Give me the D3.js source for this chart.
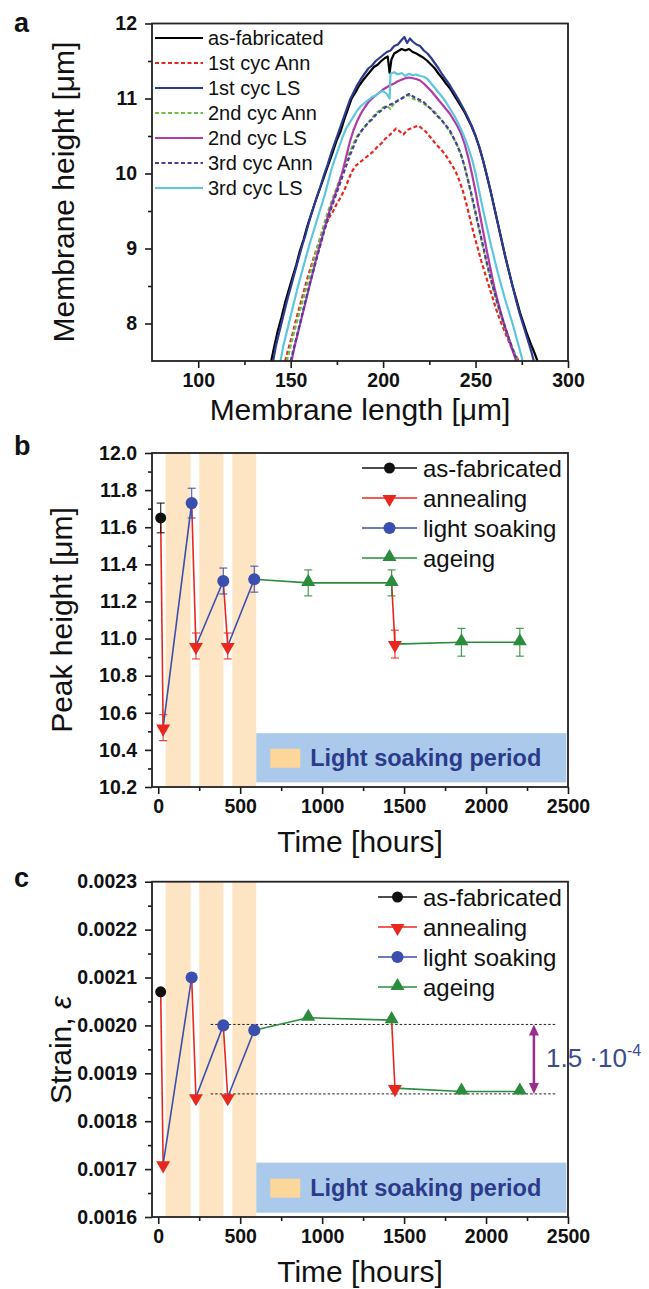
<!DOCTYPE html>
<html>
<head>
<meta charset="utf-8">
<script src="https://cdn.jsdelivr.net/npm/d3@7"></script>
<style>
  body { margin: 0; background: #fff; }
  svg text { font-family: "Liberation Sans", Arial, sans-serif; fill: #111; }
</style>
</head>
<body>
<svg id="fig" width="649" height="1289"></svg>
<script>
// ---- panel a: membrane height profiles [length um, height um] ----
const asFabricated = [[139.5,7.5],[141,7.68],[143,7.9],[145,8.08],[147,8.28],[149,8.45],[151,8.62],[153,8.78],[155,8.97],[157,9.12],[159,9.3],[161,9.45],[163,9.6],[165,9.74],[167,9.88],[169,10.02],[171,10.16],[173,10.3],[175,10.45],[177,10.56],[179,10.72],[181,10.86],[183,11.0],[185,11.08],[187,11.17],[189,11.24],[191,11.3],[193,11.36],[195,11.42],[197,11.45],[199,11.5],[201,11.54],[202.5,11.56],[203.5,11.34],[204.5,11.52],[206,11.6],[208,11.63],[210,11.66],[212,11.64],[214,11.66],[216,11.62],[218,11.6],[220,11.57],[222,11.54],[224,11.5],[226,11.45],[228,11.4],[230,11.33],[232,11.27],[234,11.2],[236,11.14],[238,11.06],[240,10.98],[242,10.9],[244,10.82],[246,10.72],[248,10.62],[250,10.5],[252,10.35],[254,10.18],[256,9.98],[258,9.78],[260,9.56],[262,9.34],[264,9.12],[266,8.9],[268,8.7],[270,8.5],[272,8.33],[274,8.15],[276,8.0],[278,7.85],[280,7.72],[282,7.6],[283.5,7.5]];
const cyc1Ann = [[147,7.5],[149,7.68],[151,7.86],[153,8.06],[155,8.24],[157,8.42],[159,8.6],[161,8.76],[163,8.92],[165,9.06],[167,9.2],[169,9.32],[171,9.42],[173,9.5],[175,9.6],[177,9.68],[179,9.78],[181,9.9],[183,10.02],[185,10.1],[187,10.14],[189,10.18],[191,10.22],[193,10.26],[195,10.3],[197,10.36],[199,10.4],[201,10.46],[203,10.5],[205,10.55],[207,10.6],[209,10.56],[211,10.52],[213,10.58],[215,10.6],[217,10.62],[219,10.64],[221,10.6],[223,10.56],[225,10.5],[227,10.44],[229,10.38],[231,10.33],[233,10.27],[235,10.2],[237,10.12],[239,10.04],[241,9.92],[243,9.78],[245,9.6],[247,9.4],[249,9.2],[251,9.02],[253,8.84],[255,8.68],[257,8.52],[259,8.36],[261,8.2],[263,8.06],[265,7.94],[267,7.82],[269,7.7],[271,7.6],[273.5,7.5]];
const cyc1LS = [[140.5,7.5],[142,7.7],[144,7.9],[146,8.1],[148,8.3],[150,8.48],[152,8.66],[154,8.84],[156,9.02],[158,9.18],[160,9.36],[162,9.52],[164,9.68],[166,9.82],[168,9.98],[170,10.12],[172,10.28],[174,10.42],[176,10.56],[178,10.7],[180,10.84],[182,10.98],[184,11.08],[186,11.18],[188,11.26],[190,11.33],[192,11.4],[194,11.44],[196,11.5],[198,11.54],[200,11.58],[202,11.62],[204,11.64],[206,11.7],[208,11.72],[210,11.78],[211.5,11.82],[213,11.74],[214.5,11.8],[216,11.76],[218,11.72],[220,11.7],[222,11.64],[224,11.6],[226,11.54],[228,11.47],[230,11.4],[232,11.32],[234,11.25],[236,11.18],[238,11.1],[240,11.02],[242,10.93],[244,10.84],[246,10.74],[248,10.63],[250,10.5],[252,10.36],[254,10.18],[256,9.99],[258,9.78],[260,9.56],[262,9.34],[264,9.12],[266,8.9],[268,8.7],[270,8.5],[272,8.3],[274,8.12],[276,7.96],[278,7.8],[280,7.64],[281.5,7.5]];
const cyc2Ann = [[148,7.5],[150,7.7],[152,7.9],[154,8.08],[156,8.26],[158,8.44],[160,8.62],[162,8.8],[164,8.98],[166,9.15],[168,9.32],[170,9.48],[172,9.62],[174,9.75],[176,9.88],[178,10.02],[180,10.16],[182,10.28],[184,10.4],[186,10.5],[188,10.56],[190,10.62],[192,10.68],[194,10.74],[196,10.8],[198,10.84],[200,10.88],[202,10.9],[204,10.86],[206,10.94],[208,10.98],[210,11.0],[212,11.03],[214,11.05],[216,11.0],[218,10.98],[220,10.96],[222,10.93],[224,10.9],[226,10.86],[228,10.82],[230,10.76],[232,10.7],[234,10.63],[236,10.56],[238,10.48],[240,10.38],[242,10.26],[244,10.1],[246,9.9],[248,9.68],[250,9.46],[252,9.24],[254,9.02],[256,8.8],[258,8.6],[260,8.42],[262,8.24],[264,8.08],[266,7.94],[268,7.8],[270,7.67],[273,7.5]];
const cyc2LS = [[150.5,7.5],[152,7.68],[154,7.88],[156,8.08],[158,8.28],[160,8.48],[162,8.68],[164,8.88],[166,9.06],[168,9.24],[170,9.42],[172,9.58],[174,9.72],[176,9.86],[178,10.02],[180,10.22],[182,10.42],[184,10.58],[186,10.7],[188,10.8],[190,10.88],[192,10.95],[194,11.0],[196,11.04],[198,11.08],[200,11.12],[202,11.15],[204,11.18],[206,11.2],[208,11.23],[210,11.25],[212,11.27],[214,11.28],[216,11.27],[218,11.26],[220,11.24],[222,11.2],[224,11.15],[226,11.1],[228,11.04],[230,10.98],[232,10.92],[234,10.86],[236,10.8],[238,10.72],[240,10.64],[242,10.54],[244,10.4],[246,10.22],[248,10.0],[250,9.76],[252,9.5],[254,9.24],[256,8.98],[258,8.74],[260,8.5],[262,8.3],[264,8.12],[266,7.95],[268,7.8],[270,7.64],[272,7.5]];
const cyc3Ann = [[150,7.5],[152,7.7],[154,7.9],[156,8.1],[158,8.3],[160,8.5],[162,8.68],[164,8.86],[166,9.04],[168,9.22],[170,9.38],[172,9.54],[174,9.68],[176,9.82],[178,9.96],[180,10.1],[182,10.24],[184,10.36],[186,10.48],[188,10.56],[190,10.62],[192,10.68],[194,10.72],[196,10.78],[198,10.82],[200,10.86],[202,10.9],[204,10.92],[206,10.94],[208,10.97],[210,11.0],[212,11.03],[214,11.06],[216,11.03],[218,11.0],[220,10.98],[222,10.95],[224,10.9],[226,10.86],[228,10.8],[230,10.75],[232,10.7],[234,10.64],[236,10.58],[238,10.48],[240,10.38],[242,10.26],[244,10.1],[246,9.9],[248,9.7],[250,9.48],[252,9.26],[254,9.04],[256,8.82],[258,8.62],[260,8.44],[262,8.26],[264,8.1],[266,7.95],[268,7.8],[270,7.66],[272.5,7.5]];
const cyc3LS = [[144.5,7.5],[146,7.7],[148,7.9],[150,8.1],[152,8.3],[154,8.5],[156,8.68],[158,8.86],[160,9.04],[162,9.2],[164,9.36],[166,9.52],[168,9.68],[170,9.86],[172,10.05],[174,10.2],[176,10.34],[178,10.48],[180,10.6],[182,10.68],[184,10.76],[186,10.84],[188,10.9],[190,10.94],[192,10.98],[194,11.02],[196,11.04],[198,11.08],[200,11.1],[202,11.06],[203.5,11.0],[204,11.33],[206,11.35],[208,11.32],[210,11.34],[212,11.3],[214,11.33],[216,11.31],[218,11.32],[220,11.3],[222,11.29],[224,11.26],[226,11.2],[228,11.14],[230,11.08],[232,11.02],[234,10.95],[236,10.87],[238,10.79],[240,10.7],[242,10.6],[244,10.48],[246,10.35],[248,10.2],[250,10.0],[252,9.76],[254,9.52],[256,9.3],[258,9.08],[260,8.88],[262,8.68],[264,8.5],[266,8.32],[268,8.16],[270,8.0],[272,7.82],[274,7.64],[275.5,7.5]];

const profileNames = ["as-fabricated", "1st cyc Ann", "1st cyc LS", "2nd cyc Ann", "2nd cyc LS", "3rd cyc Ann", "3rd cyc LS"];
const profileData = [asFabricated, cyc1Ann, cyc1LS, cyc2Ann, cyc2LS, cyc3Ann, cyc3LS];
const profileColors = ["#000000", "#e8261e", "#2b3b92", "#6cbf45", "#b23aa6", "#4c3d97", "#5cc6df"];
const profileDashed = [false, true, false, true, false, true, false];

const lengthTicks = [100, 150, 200, 250, 300];
const lengthMinor = [125, 175, 225, 275];
const heightTicks = [8, 9, 10, 11, 12];
const heightMinor = [8.5, 9.5, 10.5, 11.5];

// ---- panels b & c: peak height and strain over time ----
const times = [15, 30, 204, 230, 397, 424, 586, 915, 1424, 1444, 1850, 2206];
const stages = ["fab", "ann", "ls", "ann", "ls", "ann", "ls", "age", "age", "ann", "age", "age"];
const peakHeight = [11.65, 10.52, 11.73, 10.96, 11.31, 10.96, 11.32, 11.30, 11.30, 10.97, 10.98, 10.98];
const peakErr = [0.08, 0.07, 0.08, 0.07, 0.07, 0.07, 0.07, 0.07, 0.07, 0.075, 0.075, 0.075];
const strain = [0.00207, 0.00171, 0.00210, 0.00185, 0.00200, 0.00185, 0.00199, 0.002016, 0.002011, 0.001869, 0.001862, 0.001862];

const stageKeys = ["fab", "ann", "ls", "age"];
const stageNames = ["as-fabricated", "annealing", "light soaking", "ageing"];
const stageColors = { fab: "#111111", ann: "#e8281f", ls: "#3a4fae", age: "#2a8c3c" };

const soakBands = [[45, 198], [250, 398], [452, 598]];
const strainRefs = [0.002002, 0.001857];
const strainRefSpan = [320, 2430];
const strainArrowTime = 2292;

const timeTicks = [0, 500, 1000, 1500, 2000, 2500];
const timeMinor = [250, 750, 1250, 1750, 2250];
const peakTicks = [10.2, 10.4, 10.6, 10.8, 11.0, 11.2, 11.4, 11.6, 11.8, 12.0];
const peakMinor = [10.3, 10.5, 10.7, 10.9, 11.1, 11.3, 11.5, 11.7, 11.9];
const strainTicks = [0.0016, 0.0017, 0.0018, 0.0019, 0.0020, 0.0021, 0.0022, 0.0023];
const strainMinor = [0.00165, 0.00175, 0.00185, 0.00195, 0.00205, 0.00215, 0.00225];

const svg = d3.select("#fig");
svg.append("rect").attr("width", 649).attr("height", 1289).attr("fill", "#fff");

const plotLeft = 152, plotRight = 568;

function drawAxes(g, x, y, o) {
    const [x0, x1] = x.range();
    const [yb, yt] = y.range();
    const style = sel => {
        sel.select(".domain").remove();
        sel.selectAll(".tick line").attr("stroke", "#1a1a1a").attr("stroke-width", 1.6);
        sel.selectAll(".tick text")
            .style("font-size", "19.5px").style("font-weight", "bold").attr("fill", "#111");
    };
    g.append("g").attr("transform", `translate(0,${yb})`)
        .call(d3.axisBottom(x).tickValues(o.xMinor).tickSize(4).tickFormat("")).call(style);
    g.append("g").attr("transform", `translate(0,${yb})`)
        .call(d3.axisBottom(x).tickValues(o.xTicks).tickSize(7).tickPadding(5).tickFormat(o.xFmt)).call(style);
    g.append("g").attr("transform", `translate(${x0},0)`)
        .call(d3.axisLeft(y).tickValues(o.yMinor).tickSize(4).tickFormat("")).call(style);
    g.append("g").attr("transform", `translate(${x0},0)`)
        .call(d3.axisLeft(y).tickValues(o.yTicks).tickSize(7).tickPadding(8).tickFormat(o.yFmt)).call(style);
    g.append("rect")
        .attr("x", x0).attr("y", yt).attr("width", x1 - x0).attr("height", yb - yt)
        .attr("fill", "none").attr("stroke", "#222").attr("stroke-width", 1.8);
}

function yTitle(g, xPos, yPos, build) {
    const t = g.append("text")
        .attr("transform", `translate(${xPos},${yPos}) rotate(-90)`)
        .attr("text-anchor", "middle").style("font-size", "30px");
    build(t);
}

function panelLabel(txt, x, y) {
    svg.append("text").attr("x", x).attr("y", y)
        .style("font-size", "27px").style("font-weight", "bold").text(txt);
}

// ================= panel a =================
{
    const g = svg.append("g");
    const x = d3.scaleLinear().domain([75, 300]).range([plotLeft, plotRight]);
    const y = d3.scaleLinear().domain([7.5, 12]).range([361, 23.5]);

    const line = d3.line().x(d => x(d[0])).y(d => y(d[1]));
    profileData.forEach((pts, i) => {
        g.append("path").datum(pts)
            .attr("d", line)
            .attr("fill", "none")
            .attr("stroke", profileColors[i])
            .attr("stroke-width", 2.2)
            .attr("stroke-dasharray", profileDashed[i] ? "4,2.5" : null)
            .attr("stroke-linejoin", "round");
    });

    drawAxes(g, x, y, {
        xTicks: lengthTicks, xMinor: lengthMinor, xFmt: d3.format("d"),
        yTicks: heightTicks, yMinor: heightMinor, yFmt: d3.format("d")
    });

    // legend
    profileNames.forEach((name, i) => {
        const ly = 38 + i * 25;
        g.append("line").attr("x1", 155).attr("x2", 203).attr("y1", ly).attr("y2", ly)
            .attr("stroke", profileColors[i]).attr("stroke-width", 2)
            .attr("stroke-dasharray", profileDashed[i] ? "4,2.5" : null);
        g.append("text").attr("x", 208).attr("y", ly).attr("dy", "0.36em")
            .style("font-size", "20px").text(name);
    });

    g.append("text").attr("x", (plotLeft + plotRight) / 2).attr("y", 420)
        .attr("text-anchor", "middle").style("font-size", "30px").text("Membrane length [\u03bcm]");
    yTitle(g, 74, 192, t => t.text("Membrane height [\u03bcm]"));
    panelLabel("a", 14, 32);
}

// ================= panels b & c =================
function symbolFor(stage) {
    if (stage === "ann" || stage === "age") return d3.symbol().type(d3.symbolTriangle).size(85)();
    return d3.symbol().type(d3.symbolCircle).size(stage === "fab" ? 95 : 115)();
}
function markerTransform(stage, px, py) {
    if (stage === "ann") return `translate(${px},${py + 1}) rotate(180)`;
    if (stage === "age") return `translate(${px},${py - 1})`;
    return `translate(${px},${py})`;
}

function timePanel(o) {
    const g = svg.append("g");
    const x = d3.scaleLinear().domain([-38, 2500]).range([plotLeft, plotRight]);
    const y = d3.scaleLinear().domain(o.yDomain).range(o.yRange);

    // light soaking bands
    g.selectAll(".band").data(soakBands).enter().append("rect")
        .attr("x", d => x(d[0])).attr("width", d => x(d[1]) - x(d[0]))
        .attr("y", o.yRange[1]).attr("height", o.yRange[0] - o.yRange[1])
        .attr("fill", "#fde5c3");

    // light soaking period box
    const bx = x(soakBands[2][1]);
    const by0 = y(o.boxRange[1]), by1 = y(o.boxRange[0]);
    g.append("rect").attr("x", bx).attr("y", by0).attr("width", x(2490) - bx).attr("height", by1 - by0)
        .attr("fill", "#abc9ea");
    const midY = (by0 + by1) / 2;
    g.append("rect").attr("x", bx + 14).attr("y", midY - 9).attr("width", 30).attr("height", 19)
        .attr("fill", "#fdd69a");
    g.append("text").attr("x", bx + 54).attr("y", midY).attr("dy", "0.36em")
        .style("font-size", "23.5px").style("font-weight", "bold")
        .style("fill", "#2b3a8a").text("Light soaking period");

    if (o.refs) {
        o.refs.forEach(v => {
            g.append("line").attr("x1", x(strainRefSpan[0])).attr("x2", x(strainRefSpan[1]))
                .attr("y1", y(v)).attr("y2", y(v))
                .attr("stroke", "#222").attr("stroke-width", 1).attr("stroke-dasharray", "2.5,2");
        });
        const ax = x(strainArrowTime);
        const ya = y(o.refs[0]), yb = y(o.refs[1]);
        g.append("line").attr("x1", ax).attr("x2", ax).attr("y1", ya + 8).attr("y2", yb - 8)
            .attr("stroke", "#9b2c8e").attr("stroke-width", 2.5);
        g.append("path").attr("d", `M${ax},${ya} L${ax - 5},${ya + 11} L${ax + 5},${ya + 11} Z`).attr("fill", "#9b2c8e");
        g.append("path").attr("d", `M${ax},${yb} L${ax - 5},${yb - 11} L${ax + 5},${yb - 11} Z`).attr("fill", "#9b2c8e");
    }

    // connecting segments coloured by the stage they lead to
    for (let i = 1; i < times.length; i++) {
        g.append("line")
            .attr("x1", x(times[i - 1])).attr("y1", y(o.values[i - 1]))
            .attr("x2", x(times[i])).attr("y2", y(o.values[i]))
            .attr("stroke", stageColors[stages[i]]).attr("stroke-width", 1.6);
    }

    if (o.errors) {
        times.forEach((t, i) => {
            const px = x(t), c = stageColors[stages[i]];
            const y1 = y(o.values[i] + o.errors[i]), y2 = y(o.values[i] - o.errors[i]);
            g.append("line").attr("x1", px).attr("x2", px).attr("y1", y1).attr("y2", y2)
                .attr("stroke", c).attr("stroke-width", 1.2).attr("opacity", 0.85);
            [y1, y2].forEach(yy => g.append("line").attr("x1", px - 4).attr("x2", px + 4)
                .attr("y1", yy).attr("y2", yy).attr("stroke", c).attr("stroke-width", 1.2).attr("opacity", 0.85));
        });
    }

    times.forEach((t, i) => {
        const s = stages[i];
        g.append("path").attr("d", symbolFor(s))
            .attr("transform", markerTransform(s, x(t), y(o.values[i])))
            .attr("fill", stageColors[s]);
    });

    drawAxes(g, x, y, {
        xTicks: timeTicks, xMinor: timeMinor, xFmt: d3.format("d"),
        yTicks: o.yTicks, yMinor: o.yMinor, yFmt: o.yFmt
    });

    // legend
    stageKeys.forEach((k, i) => {
        const ly = o.legendY + i * 30;
        g.append("line").attr("x1", o.legendX[0]).attr("x2", o.legendX[1]).attr("y1", ly).attr("y2", ly)
            .attr("stroke", stageColors[k]).attr("stroke-width", 1.6);
        const mx = (o.legendX[0] + o.legendX[1]) / 2;
        g.append("path").attr("d", symbolFor(k)).attr("transform", markerTransform(k, mx, ly))
            .attr("fill", stageColors[k]);
        g.append("text").attr("x", o.legendX[1] + 6).attr("y", ly).attr("dy", "0.36em")
            .style("font-size", "24px").text(stageNames[i]);
    });

    g.append("text").attr("x", (plotLeft + plotRight) / 2).attr("y", o.xTitleY)
        .attr("text-anchor", "middle").style("font-size", "30px").text("Time [hours]");
    return { g, x, y };
}

// panel b
{
    const p = timePanel({
        yDomain: [10.2, 12.0], yRange: [787, 453],
        values: peakHeight, errors: peakErr,
        yTicks: peakTicks, yMinor: peakMinor, yFmt: d3.format(".1f"),
        boxRange: [10.225, 10.49],
        legendY: 468, legendX: [362, 417],
        xTitleY: 852
    });
    yTitle(p.g, 72, 620, t => t.text("Peak height [\u03bcm]"));
    panelLabel("b", 14, 455);
}

// panel c
{
    const p = timePanel({
        yDomain: [0.0016, 0.0023], yRange: [1217, 881.7],
        values: strain, errors: null, refs: strainRefs,
        yTicks: strainTicks, yMinor: strainMinor, yFmt: d3.format(".4f"),
        boxRange: [0.001609, 0.0017135],
        legendY: 897, legendX: [378, 417],
        xTitleY: 1282
    });
    yTitle(p.g, 71, 1050, t => {
        t.append("tspan").text("Strain, ");
        t.append("tspan").style("font-style", "italic").text("\u03b5");
    });
    const lbl = p.g.append("text").attr("x", 546).attr("y", 1067)
        .style("font-size", "26px").style("fill", "#3b4c8e");
    lbl.append("tspan").text("1.5 \u00b710");
    lbl.append("tspan").attr("dy", -11).style("font-size", "16px").text("-4");
    panelLabel("c", 14, 887);
}
</script>
</body>
</html>
